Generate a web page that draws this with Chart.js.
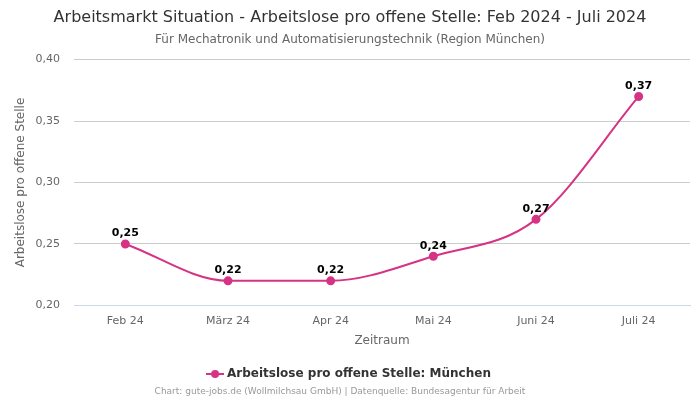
<!DOCTYPE html>
<html>
<head>
<meta charset="utf-8">
<script src="https://cdn.jsdelivr.net/npm/chart.js@4.4.1/dist/chart.umd.min.js"></script>
<style>
  html, body { margin: 0; padding: 0; background: #fff; }
  #wrap { width: 700px; height: 400px; position: relative; }
</style>
</head>
<body>
<div id="wrap"><canvas id="chart"></canvas></div>
<script>
const categories = ["Feb 24", "März 24", "Apr 24", "Mai 24", "Juni 24", "Juli 24"];
const valuesMuenchen = [0.25, 0.22, 0.22, 0.24, 0.27, 0.37];
const yTicks = [0.20, 0.25, 0.30, 0.35, 0.40];

const lineColor = "#d63384";
const fontFamily = "'DejaVu Sans', sans-serif";

function fmt(v) {
  return v.toFixed(2).replace(".", ",");
}

// Legendensymbol: Linie mit Punkt
const legendIcon = document.createElement("canvas");
legendIcon.width = 18;
legendIcon.height = 10;
(function () {
  const c = legendIcon.getContext("2d");
  c.strokeStyle = lineColor;
  c.lineWidth = 2;
  c.beginPath();
  c.moveTo(0, 5);
  c.lineTo(18, 5);
  c.stroke();
  c.fillStyle = lineColor;
  c.beginPath();
  c.arc(9, 5, 4, 0, Math.PI * 2);
  c.fill();
})();

// Werte über den Punkten
const pointLabels = {
  id: "pointLabels",
  afterDatasetsDraw(chart) {
    const ctx = chart.ctx;
    const meta = chart.getDatasetMeta(0);
    ctx.save();
    ctx.font = "bold 11px " + fontFamily;
    ctx.fillStyle = "#000";
    ctx.textAlign = "center";
    ctx.textBaseline = "bottom";
    meta.data.forEach((pt, i) => {
      ctx.fillText(fmt(valuesMuenchen[i]), pt.x, pt.y - 5);
    });
    ctx.restore();
  }
};

// Quellenangabe unten
const footer = {
  id: "footer",
  afterDraw(chart) {
    const ctx = chart.ctx;
    ctx.save();
    ctx.font = "9px " + fontFamily;
    ctx.fillStyle = "#999";
    ctx.textAlign = "center";
    ctx.textBaseline = "middle";
    ctx.fillText("Chart: gute-jobs.de (Wollmilchsau GmbH) | Datenquelle: Bundesagentur für Arbeit", 340, 392);
    ctx.restore();
  }
};

new Chart(document.getElementById("chart"), {
  type: "line",
  data: {
    labels: categories,
    datasets: [{
      label: "Arbeitslose pro offene Stelle: München",
      data: valuesMuenchen,
      borderColor: lineColor,
      backgroundColor: lineColor,
      borderWidth: 2,
      pointRadius: 3.5,
      pointHoverRadius: 3.5,
      cubicInterpolationMode: "monotone",
      fill: false
    }]
  },
  options: {
    responsive: true,
    maintainAspectRatio: false,
    animation: false,
    layout: { padding: { left: 10, right: 10, top: 0, bottom: 10 } },
    plugins: {
      title: {
        display: true,
        text: "Arbeitsmarkt Situation - Arbeitslose pro offene Stelle: Feb 2024 - Juli 2024",
        color: "#333",
        font: { family: fontFamily, size: 16, weight: "normal" },
        padding: { top: 8, bottom: 4 }
      },
      subtitle: {
        display: true,
        text: "Für Mechatronik und Automatisierungstechnik (Region München)",
        color: "#666",
        font: { family: fontFamily, size: 12 },
        padding: { top: 1, bottom: 13 }
      },
      legend: {
        position: "bottom",
        labels: {
          usePointStyle: true,
          pointStyle: legendIcon,
          color: "#333",
          font: { family: fontFamily, size: 12, weight: "bold" },
          padding: 12
        }
      },
      tooltip: { enabled: false }
    },
    scales: {
      x: {
        offset: true,
        grid: { display: false, drawTicks: false },
        border: { color: "#ccd6eb" },
        ticks: { color: "#666", padding: 9, font: { family: fontFamily, size: 11 } },
        title: {
          display: true,
          text: "Zeitraum",
          color: "#666",
          font: { family: fontFamily, size: 12 },
          padding: { top: -3, bottom: 8 }
        }
      },
      y: {
        min: yTicks[0],
        max: yTicks[yTicks.length - 1],
        afterBuildTicks: (axis) => { axis.ticks = yTicks.map(v => ({ value: v })); },
        grid: { color: "#ccc", drawTicks: false },
        border: { display: false },
        ticks: {
          color: "#666",
          padding: 14,
          font: { family: fontFamily, size: 11 },
          callback: (v) => fmt(v)
        },
        title: {
          display: true,
          text: "Arbeitslose pro offene Stelle",
          color: "#666",
          font: { family: fontFamily, size: 12 }
        },
        afterFit: (axis) => { axis.width = 64; }
      }
    }
  },
  plugins: [pointLabels, footer]
});
</script>
</body>
</html>
